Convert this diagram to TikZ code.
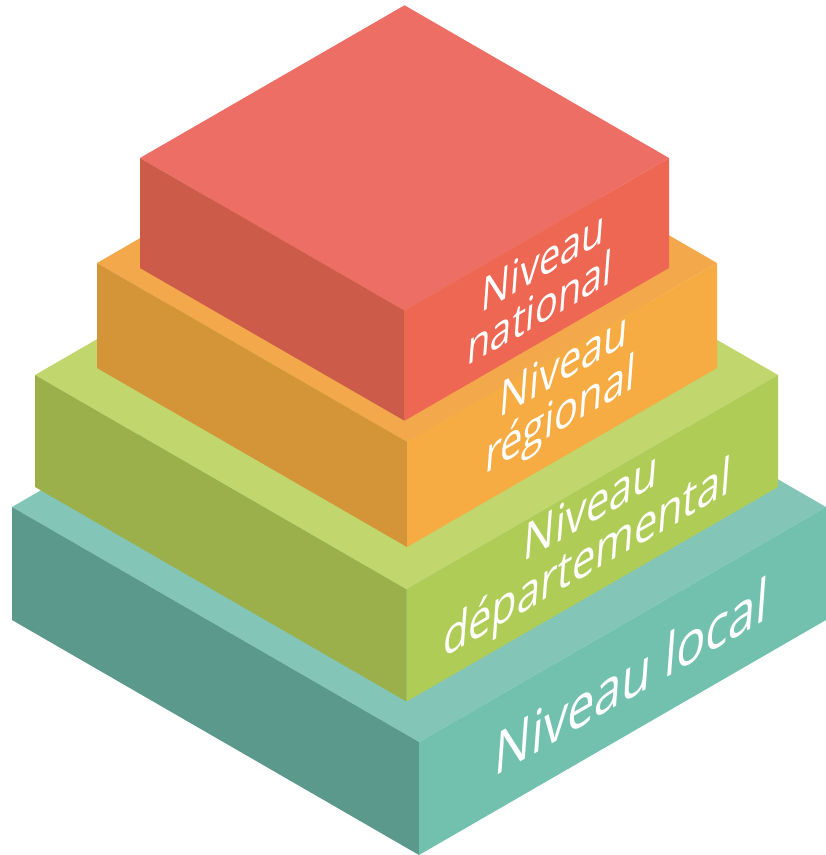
\documentclass[tikz,border=0pt]{standalone}
\usepackage{fontspec}
\setmainfont{Open Sans}
\definecolor{redtop}{HTML}{EC6E64}
\definecolor{redleft}{HTML}{CD5B49}
\definecolor{redright}{HTML}{EE6753}
\definecolor{ortop}{HTML}{F2A84B}
\definecolor{orleft}{HTML}{D39537}
\definecolor{orright}{HTML}{F6AB43}
\definecolor{grtop}{HTML}{C1D66C}
\definecolor{grleft}{HTML}{9BB04A}
\definecolor{grright}{HTML}{AFCC56}
\definecolor{tltop}{HTML}{83C6B7}
\definecolor{tlleft}{HTML}{5A998B}
\definecolor{tlright}{HTML}{72C1AF}
% #1 name, #2 cx, #3 y of left vertex, #4 half width, #5 height, #6 top, #7 left, #8 right
\newcommand\isoslab[8]{%
  \pgfmathsetmacro\slabdep{#4*0.5774}%
  \coordinate (#1-B) at (#2, #3-\slabdep);
  \coordinate (#1-L) at (#2-#4, #3);
  \coordinate (#1-F) at (#2, #3+\slabdep);
  \coordinate (#1-R) at (#2+#4, #3);
  \coordinate (#1-LB) at (#2-#4, #3+#5);
  \coordinate (#1-FB) at (#2, #3+\slabdep+#5);
  \coordinate (#1-RB) at (#2+#4, #3+#5);
  \fill[#6] (#1-B) -- (#1-L) -- (#1-F) -- (#1-R) -- cycle;
  \fill[#7] (#1-L) -- (#1-F) -- (#1-FB) -- (#1-LB) -- cycle;
  \fill[#8] (#1-F) -- (#1-R) -- (#1-RB) -- (#1-FB) -- cycle;
}
\tikzset{
  lbl/.style={text=white, align=center, inner sep=0pt,
    cm={0.866,0.5,0.08,1.08,(0,0)}},
}
\begin{document}
\begin{tikzpicture}[x=1pt,y=-1pt]
\useasboundingbox (0,0) rectangle (826,855);
\isoslab{tl}{419}{507}{407}{113}{tltop}{tlleft}{tlright}
\isoslab{gr}{406.5}{375}{371.5}{112}{grtop}{grleft}{grright}
\isoslab{or}{407}{263}{310}{105}{ortop}{orleft}{orright}
\isoslab{rd}{404.5}{158}{264.5}{110}{redtop}{redleft}{redright}
\node[lbl, font=\fontsize{56}{60}\selectfont] (local) at (632,676) {Niveau local};
\node[lbl, font=\fontsize{48}{48}\selectfont] (dep) at (589,537) {Niveau\\départemental};
\node[lbl, font=\fontsize{46}{46}\selectfont] (reg) at (562,394) {Niveau\\régional};
\node[lbl, font=\fontsize{44}{44}\selectfont] (nat) at (542,284) {Niveau\\national};
\end{tikzpicture}
\end{document}
